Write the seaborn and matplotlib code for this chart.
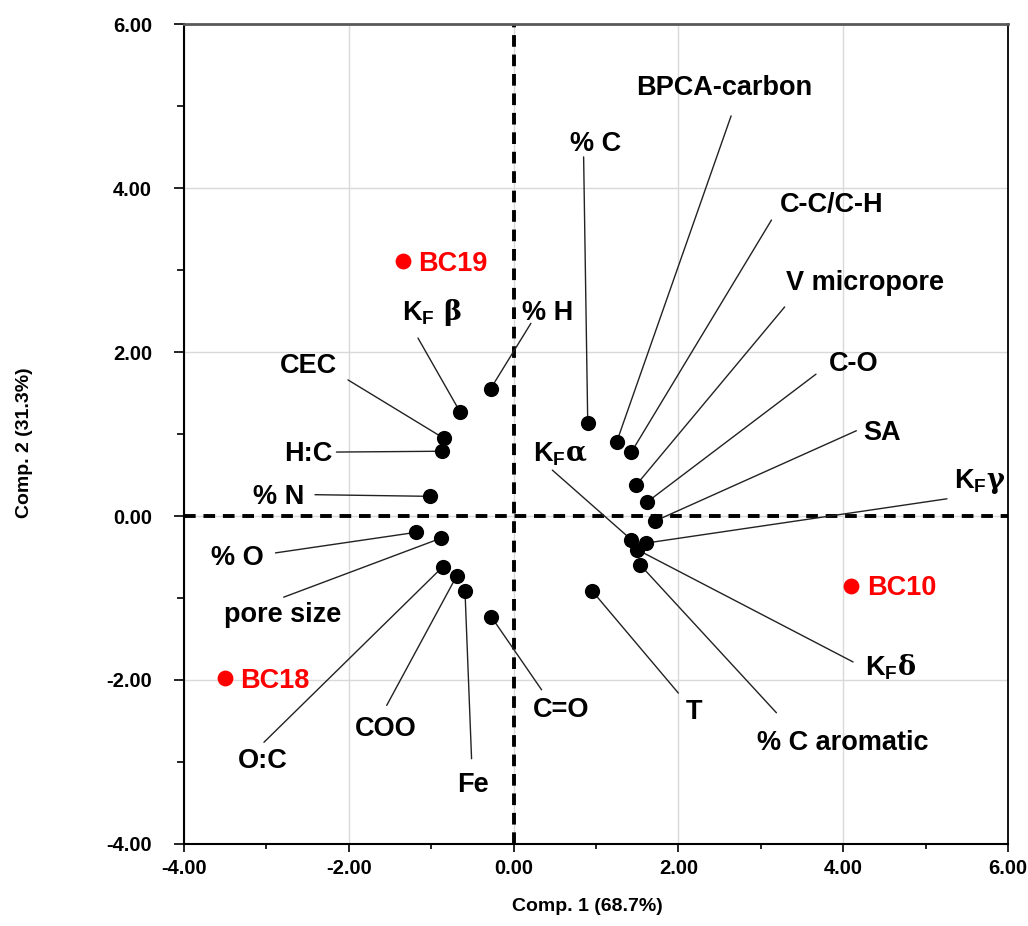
import pandas as pd
import seaborn as sns
import matplotlib.pyplot as plt
from matplotlib.ticker import MultipleLocator, FormatStrFormatter

# variable loadings on the two components
variables = ['% C', 'BPCA-carbon', 'C-C/C-H', 'V micropore', 'C-O', 'SA',
             r'$\mathrm{K_F}\gamma$', r'$\mathrm{K_F}\alpha$', r'$\mathrm{K_F}\delta$',
             '% C aromatic', 'T', 'C=O', 'Fe', 'COO', 'O:C', 'pore size',
             '% O', '% N', 'H:C', 'CEC', r'$\mathrm{K_F}\ \beta$', '% H']
comp1 = [0.90, 1.25, 1.43, 1.49, 1.62, 1.72, 1.61, 1.43, 1.50, 1.54, 0.95,
         -0.27, -0.59, -0.69, -0.86, -0.88, -1.19, -1.02, -0.87, -0.85, -0.65, -0.28]
comp2 = [1.13, 0.90, 0.78, 0.38, 0.17, -0.06, -0.33, -0.29, -0.41, -0.60, -0.91,
         -1.23, -0.91, -0.73, -0.62, -0.27, -0.20, 0.24, 0.79, 0.95, 1.27, 1.55]

# sample scores
samples = ['BC19', 'BC10', 'BC18']
sample_comp1 = [-1.345, 4.10, -3.50]
sample_comp2 = [3.11, -0.85, -1.98]

# label placement: text x, text baseline y, alignment, leader line start x, y
label_layout = [
    (0.99, 4.45, 'center', 0.85, 4.38),
    (2.56, 5.13, 'center', 2.64, 4.88),
    (3.86, 3.71, 'center', 3.13, 3.61),
    (4.26, 2.76, 'center', 3.29, 2.55),
    (4.13, 1.77, 'center', 3.67, 1.73),
    (4.47, 0.93, 'center', 4.16, 1.04),
    (5.35, 0.34, 'left', 5.26, 0.21),
    (0.24, 0.66, 'left', 0.47, 0.56),
    (4.26, -1.94, 'left', 4.12, -1.78),
    (3.99, -2.85, 'center', 3.19, -2.40),
    (2.19, -2.48, 'center', 2.00, -2.16),
    (0.58, -2.45, 'center', 0.34, -2.12),
    (-0.49, -3.37, 'center', -0.51, -2.96),
    (-1.55, -2.68, 'center', -1.54, -2.31),
    (-3.04, -3.07, 'center', -3.03, -2.76),
    (-2.80, -1.29, 'center', -2.79, -0.99),
    (-3.35, -0.60, 'center', -2.89, -0.45),
    (-2.85, 0.15, 'center', -2.41, 0.26),
    (-2.49, 0.67, 'center', -2.15, 0.78),
    (-2.49, 1.74, 'center', -2.01, 1.66),
    (-1.35, 2.39, 'left', -1.16, 2.17),
    (0.41, 2.39, 'center', 0.21, 2.35),
]

df = pd.DataFrame({'var': variables, 'c1': comp1, 'c2': comp2})
sdf = pd.DataFrame({'sample': samples, 'c1': sample_comp1, 'c2': sample_comp2})

sns.set_style('white')
plt.rcParams['font.family'] = ['Liberation Sans', 'DejaVu Sans']
plt.rcParams['font.weight'] = 'bold'
plt.rcParams['text.color'] = 'black'
plt.rcParams['axes.labelcolor'] = 'black'
plt.rcParams['xtick.color'] = 'black'
plt.rcParams['ytick.color'] = 'black'
plt.rcParams['mathtext.fontset'] = 'custom'
plt.rcParams['mathtext.rm'] = 'Liberation Sans:bold'
plt.rcParams['mathtext.it'] = 'DejaVu Serif:bold'
plt.rcParams['mathtext.bf'] = 'Liberation Sans:bold'

fig = plt.figure(figsize=(10.28, 9.26), dpi=100)
ax = fig.add_axes([0.179, 0.0886, 0.8015, 0.8854])

ax.set_xlim(-4, 6)
ax.set_ylim(-4, 6)
ax.grid(True, which='major', color='#d9d9d9', lw=1.0, zorder=0)
ax.set_axisbelow(True)

# dashed axes through the origin
ax.axhline(0, color='black', lw=2.8, ls=(0, (3, 2)), zorder=1)
ax.axvline(0, color='black', lw=2.8, ls=(0, (3, 2)), zorder=1)

# leader lines and labels
for i, row in df.iterrows():
    tx, ty, ha, lx, ly = label_layout[i]
    ax.annotate('', xy=(row['c1'], row['c2']), xytext=(lx, ly),
                arrowprops=dict(arrowstyle='-', color='#222222', lw=1.0,
                                shrinkA=0, shrinkB=0), zorder=2)
    ax.text(tx, ty, row['var'], ha=ha, va='baseline', fontsize=19.5,
            fontweight='bold', color='black', zorder=4)

sns.scatterplot(data=df, x='c1', y='c2', color='black', s=120,
                edgecolor='black', linewidth=0, ax=ax, zorder=3)
sns.scatterplot(data=sdf, x='c1', y='c2', color='red', s=130,
                edgecolor='red', linewidth=0, ax=ax, zorder=3)
for _, row in sdf.iterrows():
    ax.annotate(row['sample'], xy=(row['c1'], row['c2']),
                xytext=(11, -7), textcoords='offset points',
                ha='left', va='baseline', fontsize=19.5, fontweight='bold',
                color='red', zorder=4)

ax.xaxis.set_major_locator(MultipleLocator(2))
ax.yaxis.set_major_locator(MultipleLocator(2))
ax.xaxis.set_minor_locator(MultipleLocator(1))
ax.yaxis.set_minor_locator(MultipleLocator(1))
ax.xaxis.set_major_formatter(FormatStrFormatter('%.2f'))
ax.yaxis.set_major_formatter(FormatStrFormatter('%.2f'))
ax.tick_params(axis='x', which='major', direction='out', length=6, width=1.2,
               labelsize=14.5, pad=5, bottom=True)
ax.tick_params(axis='y', which='major', direction='out', length=7, width=1.2,
               labelsize=14.5, pad=16, left=True)
ax.tick_params(axis='x', which='minor', direction='out', length=3.5, width=1.2,
               bottom=True)
ax.tick_params(axis='y', which='minor', direction='out', length=5, width=1.2,
               left=True)
for lab in ax.get_xticklabels() + ax.get_yticklabels():
    lab.set_fontweight('bold')

for side in ['left', 'bottom']:
    ax.spines[side].set_color('black')
    ax.spines[side].set_linewidth(1.5)
ax.spines['top'].set_color('#595959')
ax.spines['top'].set_linewidth(2.0)
ax.spines['right'].set_color('black')
ax.spines['right'].set_linewidth(1.3)

ax.set_xlabel('Comp. 1 (68.7%)', fontsize=14, fontweight='bold')
ax.set_ylabel('Comp. 2 (31.3%)', fontsize=14, fontweight='bold')
ax.xaxis.set_label_coords(0.49, -0.066)
ax.yaxis.set_label_coords(-0.183, 0.49)

plt.savefig('out.png', dpi=100)
